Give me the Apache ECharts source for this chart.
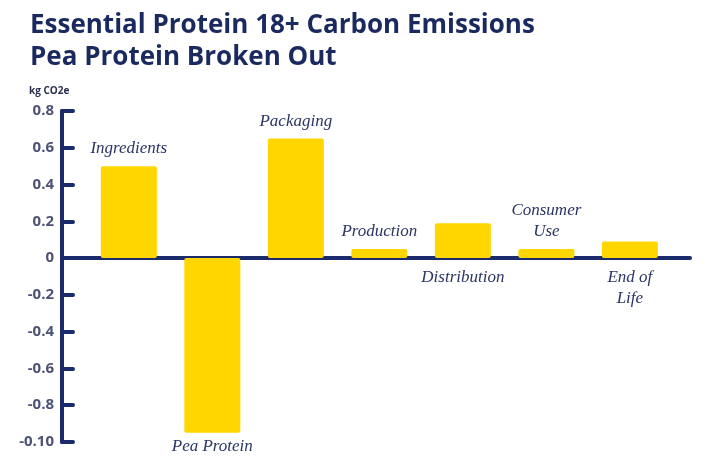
<!DOCTYPE html>
<html><head><meta charset="utf-8">
<script src="https://cdn.jsdelivr.net/npm/echarts@6/dist/echarts.min.js"></script>
<style>html,body{margin:0;padding:0;background:#fff}#c{width:720px;height:460px}</style>
</head><body><div id="c"></div>
<script>
const categories = ['Ingredients','Pea Protein','Packaging','Production','Distribution','Consumer\nUse','End of\nLife'];
const values = [0.5, -0.95, 0.65, 0.05, 0.19, 0.05, 0.09];
const labelSides = ['top','bottom','top','top','bottom','top','bottom'];
const yTickLabels = {'0.8':'0.8','0.6':'0.6','0.4':'0.4','0.2':'0.2','0':'0','-0.2':'-0.2','-0.4':'-0.4','-0.6':'-0.6','-0.8':'-0.8','-1':'-0.10'};

const navy = '#1b2a6b';
const chart = echarts.init(document.getElementById('c'));
chart.setOption({
  animation: false,
  title: [{
    text: 'Essential Protein 18+ Carbon Emissions\nPea Protein Broken Out',
    left: 25, top: 5,
    textStyle: {fontFamily: 'Open Sans', fontWeight: 'bold', fontSize: 26, color: '#1b2a5e', lineHeight: 32}
  },{
    text: 'kg CO2e', left: 24, top: 81,
    textStyle: {fontFamily: 'Open Sans', fontWeight: 'bold', fontSize: 10, color: '#2a3050'}
  }],
  grid: {left: 62, right: 30, top: 111, bottom: 18},
  xAxis: {
    type: 'value', min: -0.8, max: 6.72,
    axisLine: {show: true, onZero: true, lineStyle: {color: navy, width: 4, cap: 'round'}},
    axisTick: {show: false}, axisLabel: {show: false}, splitLine: {show: false}
  },
  yAxis: {
    type: 'value', min: -1, max: 0.8, interval: 0.2,
    axisLine: {show: true, onZero: false, lineStyle: {color: navy, width: 4, cap: 'round'}},
    axisTick: {show: true, inside: true, length: 11, lineStyle: {color: navy, width: 4, cap: 'round'}},
    axisLabel: {
      margin: 8, fontFamily: 'Open Sans', fontWeight: 'bold', fontSize: 15, color: '#4d5275',
      formatter: v => yTickLabels[String(Math.round(v*10)/10)] ?? String(v)
    },
    splitLine: {show: false}
  },
  series: [{
    type: 'bar',
    barWidth: 56,
    itemStyle: {color: '#FFD600', borderRadius: 2},
    data: categories.map((c, i) => ({
      value: [i, values[i]],
      name: c,
      label: {
        show: true,
        position: labelSides[i],
        distance: values[i] < 0 ? 3 : (labelSides[i] === 'bottom' ? 9 : 7),
        formatter: c,
        fontFamily: 'Liberation Serif', fontStyle: 'italic', fontSize: 17,
        color: '#2a3563', lineHeight: 21
      }
    }))
  }]
});
</script></body></html>
